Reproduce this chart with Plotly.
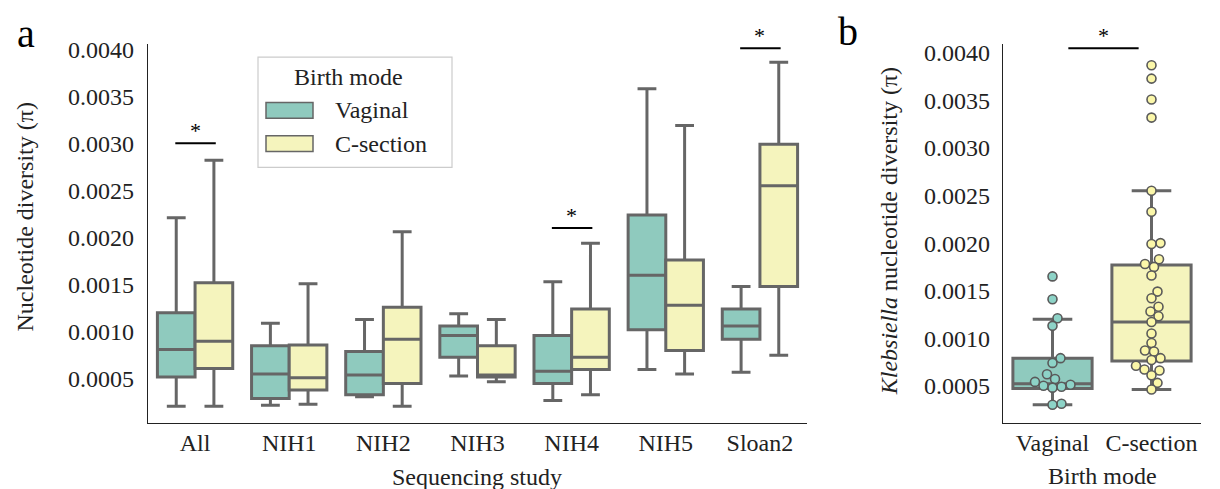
import numpy as np
import plotly.graph_objects as go

# ---------------- data ----------------
studies = ["All", "NIH1", "NIH2", "NIH3", "NIH4", "NIH5", "Sloan2"]

vag_low = [0.00021, 0.00022, 0.00031, 0.00053, 0.00027, 0.00060, 0.00057]
vag_q1 = [0.00052, 0.00029, 0.00033, 0.00073, 0.00045, 0.00102, 0.00092]
vag_med = [0.00081, 0.00055, 0.00054, 0.00096, 0.00058, 0.00160, 0.00106]
vag_q3 = [0.00120, 0.00085, 0.00079, 0.00106, 0.00096, 0.00224, 0.00124]
vag_high = [0.00221, 0.00109, 0.00113, 0.00119, 0.00153, 0.00358, 0.00148]

cs_low = [0.00021, 0.00023, 0.00021, 0.00047, 0.00033, 0.00055, 0.00075]
cs_q1 = [0.00061, 0.00038, 0.00045, 0.00052, 0.00060, 0.00080, 0.00148]
cs_med = [0.00090, 0.00051, 0.00092, 0.00054, 0.00073, 0.00128, 0.00255]
cs_q3 = [0.00152, 0.00086, 0.00126, 0.00085, 0.00124, 0.00176, 0.00299]
cs_high = [0.00282, 0.00151, 0.00206, 0.00113, 0.00194, 0.00319, 0.00386]

sig_studies = ["All", "NIH4", "Sloan2"]
sig_heights = [0.00300, 0.00210, 0.00401]

modes = ["Vaginal", "C-section"]
kleb_low = [0.00030, 0.00046]
kleb_q1 = [0.00047, 0.00076]
kleb_med = [0.00052, 0.00117]
kleb_q3 = [0.00079, 0.00177]
kleb_high = [0.00120, 0.00255]
kleb_vaginal = [0.00165, 0.00141, 0.00121, 0.00113, 0.00079, 0.00074, 0.00062,
                0.00057, 0.00054, 0.00051, 0.00050, 0.00049, 0.00048, 0.00031, 0.00030]
kleb_csection = [0.00387, 0.00373, 0.00351, 0.00332, 0.00255, 0.00233, 0.00200, 0.00199,
                 0.00183, 0.00178, 0.00175, 0.00166, 0.00149, 0.00142, 0.00133, 0.00128,
                 0.00123, 0.00117, 0.00105, 0.00095, 0.00087, 0.00086, 0.00079, 0.00077,
                 0.00071, 0.00067, 0.00066, 0.00061, 0.00053, 0.00046]
kleb_sig_height = 0.00405

yticks = [0.0005, 0.0010, 0.0015, 0.0020, 0.0025, 0.0030, 0.0035, 0.0040]

# ---------------- style ----------------
W, H = 1220, 489
VAG_FILL = "#8fcabe"
CS_FILL = "#f5f4bd"
VAG_PT = "#8dd3c7"
CS_PT = "#fbf7a9"
GRAY = "#666666"
FONT = "Liberation Serif, 'Times New Roman', Times, serif"
FS = 24

ydom = [1 - 422 / H, 1 - 37 / H]
xdom_a = [148 / W, 807 / W]
xdom_b = [1003 / W, 1201 / W]
yrange_a = [0.00003, 0.00405]
yrange_b = [0.000107, 0.00409]


def swarm_offsets(vals, px_per_y, px_per_x, diam):
    vals = np.asarray(vals)
    order = np.argsort(vals)
    placed = []
    offs = np.zeros(len(vals))
    for idx in order:
        y = vals[idx] * px_per_y
        best = None
        for step in range(0, 400):
            signs = (1, -1) if step else (1,)
            for s in signs:
                x = s * step * 0.5
                if all((x - px) ** 2 + (y - py) ** 2 >= diam ** 2 for px, py in placed):
                    best = x
                    break
            if best is not None:
                break
        placed.append((best, y))
        offs[idx] = best / px_per_x
    return offs


fig = go.Figure()

pos = np.arange(len(studies))
box_common = dict(line=dict(color=GRAY, width=3), whiskerwidth=0.5, boxpoints=False,
                  hoverinfo="skip", showlegend=False)

fig.add_trace(go.Box(x=pos - 0.2, q1=vag_q1, median=vag_med, q3=vag_q3,
                     lowerfence=vag_low, upperfence=vag_high, width=0.4,
                     fillcolor=VAG_FILL, name="Vaginal", xaxis="x", yaxis="y", **box_common))
fig.add_trace(go.Box(x=pos + 0.2, q1=cs_q1, median=cs_med, q3=cs_q3,
                     lowerfence=cs_low, upperfence=cs_high, width=0.4,
                     fillcolor=CS_FILL, name="C-section", xaxis="x", yaxis="y", **box_common))

# panel b boxes
for i, fill in enumerate([VAG_FILL, CS_FILL]):
    fig.add_trace(go.Box(x=[i], q1=[kleb_q1[i]], median=[kleb_med[i]], q3=[kleb_q3[i]],
                         lowerfence=[kleb_low[i]], upperfence=[kleb_high[i]], width=0.8,
                         fillcolor=fill, name=modes[i], xaxis="x2", yaxis="y2", **box_common))

# swarm points
px_per_y_b = (422 - 37) / (yrange_b[1] - yrange_b[0])
px_per_x_b = (1201 - 1003) / 2.0
for i, (vals, col) in enumerate([(kleb_vaginal, VAG_PT), (kleb_csection, CS_PT)]):
    off = swarm_offsets(vals, px_per_y_b, px_per_x_b, 9.0)
    fig.add_trace(go.Scatter(x=i + off, y=vals, mode="markers", xaxis="x2", yaxis="y2",
                             marker=dict(size=9, color=col, line=dict(color="#5a5a5a", width=1.6)),
                             showlegend=False, hoverinfo="skip"))

axis_common = dict(showgrid=False, zeroline=False, showline=True, linecolor="#222222",
                   linewidth=1.4, ticks="", tickfont=dict(family=FONT, size=FS, color="#222"))

fig.update_layout(
    width=W, height=H, margin=dict(l=0, r=0, t=0, b=0),
    paper_bgcolor="white", plot_bgcolor="white", boxmode="overlay",
    font=dict(family=FONT, size=FS, color="#222"),
    xaxis=dict(domain=xdom_a, range=[-0.5, 6.5], tickvals=list(pos), ticktext=studies,
               anchor="y", ticklabelstandoff=-2, **axis_common),
    yaxis=dict(domain=ydom, range=yrange_a, tickvals=yticks, tickformat=".4f",
               anchor="x", ticklabelstandoff=8, **axis_common),
    xaxis2=dict(domain=xdom_b, range=[-0.5, 1.5], tickvals=[0, 1], ticktext=modes,
                anchor="y2", ticklabelstandoff=-2, **axis_common),
    yaxis2=dict(domain=ydom, range=yrange_b, tickvals=yticks, tickformat=".4f",
                anchor="x2", ticklabelstandoff=7, **axis_common),
)

shapes = []
annotations = []
# significance bars panel a
for s, h in zip(sig_studies, sig_heights):
    c = studies.index(s)
    shapes.append(dict(type="line", xref="x", yref="y", x0=c - 0.21, x1=c + 0.22, y0=h, y1=h,
                       line=dict(color="black", width=2)))
    annotations.append(dict(xref="x", yref="y", x=c, y=h, text="*", showarrow=False,
                            yshift=13, font=dict(family=FONT, size=22, color="black")))
# significance bar panel b
shapes.append(dict(type="line", xref="x2", yref="y2", x0=0.16, x1=0.87, y0=kleb_sig_height,
                   y1=kleb_sig_height, line=dict(color="black", width=2)))
annotations.append(dict(xref="x2", yref="y2", x=0.515, y=kleb_sig_height, text="*",
                        showarrow=False, yshift=13, font=dict(family=FONT, size=22, color="black")))

# legend (manual)
shapes.append(dict(type="rect", xref="paper", yref="paper", x0=258 / W, x1=452 / W,
                   y0=1 - 162 / H, y1=1 - 50 / H, line=dict(color="#cccccc", width=1.2),
                   fillcolor="rgba(255,255,255,0.9)"))
annotations.append(dict(xref="paper", yref="paper", x=348 / W, y=1 - 70 / H, text="Birth mode",
                        showarrow=False, xanchor="center", yanchor="middle",
                        font=dict(family=FONT, size=FS, color="#222")))
for label, fill, yc in [("Vaginal", VAG_FILL, 104), ("C-section", CS_FILL, 138)]:
    shapes.append(dict(type="rect", xref="paper", yref="paper", x0=266 / W, x1=313 / W,
                       y0=1 - (yc + 8) / H, y1=1 - (yc - 8) / H,
                       line=dict(color=GRAY, width=1.5), fillcolor=fill))
    annotations.append(dict(xref="paper", yref="paper", x=333 / W, y=1 - yc / H, text=label,
                            showarrow=False, xanchor="left", yanchor="middle",
                            font=dict(family=FONT, size=FS, color="#222")))

# axis titles
annotations += [
    dict(xref="paper", yref="paper", x=25 / W, y=1 - 213 / H, text="Nucleotide diversity (π)",
         textangle=-90, showarrow=False, xanchor="center", yanchor="middle",
         font=dict(family=FONT, size=FS, color="#222")),
    dict(xref="paper", yref="paper", x=477 / W, y=1 - 477 / H, text="Sequencing study",
         showarrow=False, xanchor="center", yanchor="middle",
         font=dict(family=FONT, size=FS, color="#222")),
    dict(xref="paper", yref="paper", x=889 / W, y=1 - 227 / H,
         text="<i>Klebsiella</i> nucleotide diversity (π)",
         textangle=-90, showarrow=False, xanchor="center", yanchor="middle",
         font=dict(family=FONT, size=FS, color="#222")),
    dict(xref="paper", yref="paper", x=1102 / W, y=1 - 476 / H, text="Birth mode",
         showarrow=False, xanchor="center", yanchor="middle",
         font=dict(family=FONT, size=FS, color="#222")),
    dict(xref="paper", yref="paper", x=26 / W, y=1 - 26 / H, text="a", showarrow=False,
         xanchor="center", yanchor="middle", font=dict(family=FONT, size=40, color="black")),
    dict(xref="paper", yref="paper", x=848 / W, y=1 - 24 / H, text="b", showarrow=False,
         xanchor="center", yanchor="middle", font=dict(family=FONT, size=40, color="black")),
]

fig.update_layout(shapes=shapes, annotations=annotations)
fig.write_html("out.html", config={"displayModeBar": False},
               post_script="document.body.style.margin='0px';")
